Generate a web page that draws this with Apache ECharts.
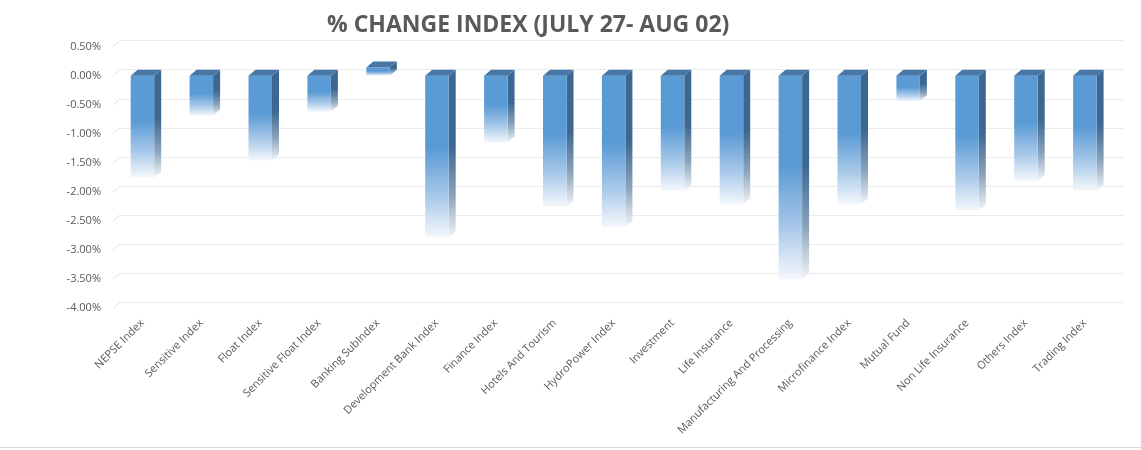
<!DOCTYPE html>
<html>
<head>
<meta charset="utf-8">
<script src="https://cdn.jsdelivr.net/npm/echarts@6/dist/echarts.min.js"></script>
<style>
  html, body { margin: 0; padding: 0; background: #fff; }
  #chart { width: 1141px; height: 450px; }
</style>
</head>
<body>
<div id="chart"></div>
<script>
// categories and weekly % change
var categories = ['NEPSE Index', 'Sensitive Index', 'Float Index', 'Sensitive Float Index',
    'Banking SubIndex', 'Development Bank Index', 'Finance Index', 'Hotels And Tourism',
    'HydroPower Index', 'Investment', 'Life Insurance', 'Manufacturing And Processing',
    'Microfinance Index', 'Mutual Fund', 'Non Life Insurance', 'Others Index', 'Trading Index'];
var changes = [-1.75, -0.69, -1.46, -0.62, 0.14, -2.78, -1.15, -2.25, -2.60, -1.98,
    -2.21, -3.50, -2.21, -0.44, -2.32, -1.81, -1.98];
var yTicks = [0.5, 0, -0.5, -1, -1.5, -2, -2.5, -3, -3.5, -4];

var DX = 7, DY = -6, BAR_W = 23.5;

var chart = echarts.init(document.getElementById('chart'));

function frontFill() {
    return new echarts.graphic.LinearGradient(0, 0, 0, 1, [
        { offset: 0, color: '#5b9bd5' },
        { offset: 0.45, color: '#5b9bd5' },
        { offset: 0.75, color: '#a9c9e9' },
        { offset: 1, color: '#f4f8fc' }
    ]);
}
function sideFill() {
    return new echarts.graphic.LinearGradient(0, 0, 0, 1, [
        { offset: 0, color: '#3c6791' },
        { offset: 0.45, color: '#3c6791' },
        { offset: 0.75, color: '#8aa3bb' },
        { offset: 1, color: '#f2f4f7' }
    ]);
}

function renderBar(params, api) {
    var idx = api.value(0);
    var v = api.value(1);
    var p0 = api.coord([idx, 0]);
    var p1 = api.coord([idx, v]);
    var x0 = p0[0] - BAR_W / 2;
    var yTop = Math.min(p0[1], p1[1]);
    var yBot = Math.max(p0[1], p1[1]);
    var h = yBot - yTop;
    return {
        type: 'group',
        children: [
            {
                type: 'polygon',
                shape: { points: [[x0 + BAR_W, yTop], [x0 + BAR_W + DX, yTop + DY],
                    [x0 + BAR_W + DX, yBot + DY], [x0 + BAR_W, yBot]] },
                style: { fill: sideFill() }
            },
            {
                type: 'rect',
                shape: { x: x0, y: yTop, width: BAR_W, height: h },
                style: { fill: frontFill() }
            },
            {
                type: 'polygon',
                shape: { points: [[x0, yTop], [x0 + DX, yTop + DY],
                    [x0 + BAR_W + DX, yTop + DY], [x0 + BAR_W, yTop]] },
                style: { fill: '#4677a6' }
            }
        ]
    };
}

function renderTick(params, api) {
    var p = api.coord([0, api.value(0)]);
    var x = params.coordSys.x;
    return {
        type: 'line',
        shape: { x1: x, y1: p[1], x2: x + DX, y2: p[1] + DY },
        style: { stroke: '#e3e3e3', lineWidth: 1 }
    };
}

var fontFam = "'Open Sans', 'Liberation Sans', sans-serif";

var option = {
    backgroundColor: '#fff',
    animation: false,
    title: {
        text: '% CHANGE INDEX (JULY 27- AUG 02)',
        left: 322,
        top: 9,
        textStyle: { color: '#595959', fontSize: 23, fontWeight: 'bold', fontFamily: fontFam }
    },
    grid: [
        { left: 120, right: 17, top: 40.6, bottom: 147.7 },
        { left: 113, right: 26.7, top: 46.6, bottom: 141.7 }
    ],
    xAxis: [
        { type: 'value', gridIndex: 0, show: false, min: 0, max: 1 },
        {
            type: 'category', gridIndex: 1, data: categories,
            axisLine: { show: false }, axisTick: { show: false },
            axisLabel: { interval: 0, rotate: 45, margin: 13, color: '#595959',
                fontSize: 11, fontFamily: fontFam }
        }
    ],
    yAxis: [
        {
            type: 'value', gridIndex: 0, min: -4, max: 0.5, interval: 0.5,
            axisLabel: { show: false }, axisLine: { show: false }, axisTick: { show: false },
            splitLine: { lineStyle: { color: '#ebebeb', width: 1 } }
        },
        {
            type: 'value', gridIndex: 1, min: -4, max: 0.5, interval: 0.5,
            axisLine: { show: false }, axisTick: { show: false }, splitLine: { show: false },
            axisLabel: { margin: 12, color: '#595959', fontSize: 11, fontFamily: fontFam,
                formatter: function (v) { return v.toFixed(2) + '%'; } }
        }
    ],
    series: [
        {
            type: 'custom', xAxisIndex: 1, yAxisIndex: 1,
            renderItem: renderTick, data: yTicks.map(function (t) { return [t]; }),
            encode: { y: 0 }, silent: true
        },
        {
            type: 'custom', xAxisIndex: 1, yAxisIndex: 1,
            renderItem: renderBar,
            data: changes.map(function (v, i) { return [i, v]; }),
            encode: { x: 0, y: 1 }
        }
    ],
    graphic: [
        { type: 'line', shape: { x1: 0, y1: 447.5, x2: 1141, y2: 447.5 },
          style: { stroke: '#d9d9d9', lineWidth: 1 } }
    ]
};

chart.setOption(option);
</script>
</body>
</html>
